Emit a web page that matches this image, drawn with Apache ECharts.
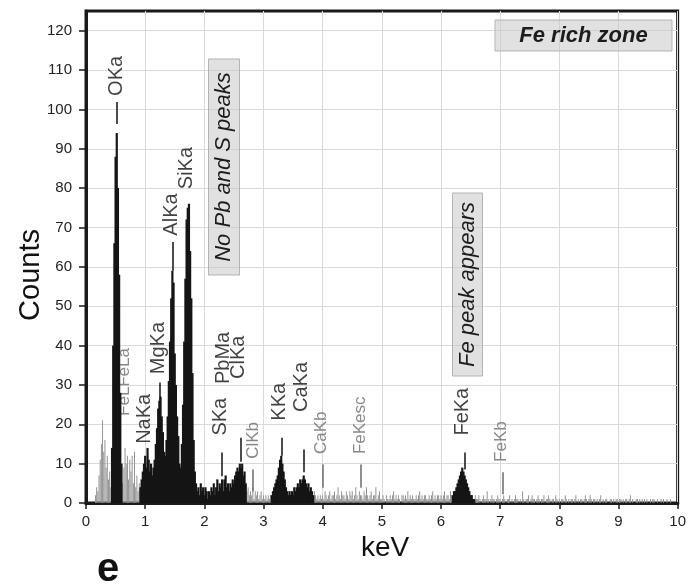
<!DOCTYPE html>
<html>
<head>
<meta charset="utf-8">
<script src="https://cdn.jsdelivr.net/npm/echarts@6/dist/echarts.min.js"></script>
<style>
  html, body { margin: 0; padding: 0; background: #ffffff; }
  #chart { width: 689px; height: 586px; }
</style>
</head>
<body>
<div id="chart"></div>
<script>
// EDS spectrum, counts per 0.02 keV channel.
const CHANNEL_KEV = 0.02;

// 0.10 – 1.98 keV (C, O, Fe-L, Na, Mg, Al, Si)
const lowStart = 0.10;
const lowCounts = [
  0, 0, 0, 2, 4, 3, 7, 11, 15, 21,
  13, 16, 9, 12, 6, 8, 4, 14, 40, 66,
  88, 94, 80, 58, 28, 10, 5, 9, 14, 10,
  12, 6, 11, 8, 12, 5, 13, 4, 7, 3,
  5, 4, 6, 8, 10, 12, 9, 14, 11, 8,
  10, 7, 9, 11, 15, 19, 24, 26, 27, 22,
  18, 13, 12, 16, 22, 31, 41, 52, 59, 56,
  38, 30, 22, 17, 10, 9, 15, 25, 41, 57,
  72, 75, 76, 64, 52, 33, 16, 8, 5, 3,
  4, 2, 5, 3, 4
];

// 2.00 – 3.98 keV (S, Pb-M, Cl, K, Ca)
const midStart = 2.00;
const midCounts = [
  2, 4, 3, 1, 3, 2, 4, 3, 5, 2,
  4, 6, 3, 5, 4, 6, 3, 6, 7, 4,
  5, 3, 5, 4, 6, 5, 7, 8, 9, 8,
  10, 9, 10, 7, 8, 5, 3, 4, 2, 3,
  2, 4, 1, 3, 2, 3, 1, 2, 3, 1,
  2, 1, 2, 1, 2, 1, 2, 2, 3, 4,
  5, 6, 7, 9, 11, 12, 10, 8, 6, 4,
  3, 2, 3, 2, 3, 2, 4, 3, 4, 5,
  4, 6, 5, 6, 7, 6, 5, 4, 5, 3,
  4, 3, 2, 3, 2, 1, 2, 1, 2, 1
];

// 4.00 – 9.98 keV (background and Fe-K)
const highStart = 4.00;
const highCounts = [
  2, 1, 3, 2, 1, 2, 3, 1, 2, 2,
  3, 1, 2, 4, 2, 1, 3, 2, 2, 1,
  3, 2, 1, 3, 2, 3, 1, 2, 4, 2,
  1, 3, 2, 2, 1, 3, 2, 4, 2, 1,
  2, 3, 1, 2, 2, 4, 1, 2, 3, 1,
  1, 2, 1, 0, 2, 1, 1, 2, 1, 2,
  3, 1, 2, 1, 2, 1, 0, 2, 2, 1,
  2, 1, 3, 1, 2, 1, 2, 1, 1, 2,
  1, 2, 3, 1, 2, 1, 2, 2, 1, 1,
  2, 1, 2, 3, 1, 2, 1, 2, 2, 1,
  2, 1, 2, 3, 1, 2, 2, 1, 3, 2,
  2, 3, 3, 4, 5, 6, 7, 8, 9, 8,
  7, 6, 5, 4, 3, 2, 2, 1, 1, 2,
  1, 1, 2, 1, 0, 1, 2, 1, 1, 3,
  1, 0, 1, 2, 1, 1, 0, 1, 2, 1,
  1, 0, 1, 2, 1, 0, 1, 1, 2, 0,
  1, 0, 1, 2, 1, 1, 0, 1, 0, 3,
  1, 0, 1, 1, 2, 0, 1, 2, 1, 1,
  0, 1, 2, 1, 0, 1, 1, 2, 0, 1,
  1, 2, 1, 0, 1, 1, 0, 2, 1, 0,
  1, 0, 1, 1, 0, 2, 1, 0, 1, 0,
  1, 1, 0, 1, 2, 0, 1, 0, 1, 1,
  0, 1, 2, 1, 0, 1, 2, 1, 0, 1,
  1, 0, 1, 0, 1, 2, 0, 1, 0, 1,
  1, 0, 0, 1, 1, 0, 1, 0, 1, 1,
  0, 1, 1, 0, 1, 0, 1, 1, 0, 1,
  2, 0, 1, 0, 0, 1, 1, 0, 1, 0,
  1, 0, 1, 0, 1, 0, 0, 1, 0, 1,
  1, 0, 0, 1, 0, 0, 1, 0, 1, 0,
  0, 1, 0, 0, 1, 0, 0, 0, 0, 0
];

// Energy windows drawn as fitted peaks (dark); the rest is background (grey).
const peakBands = [[0.43, 0.61], [0.91, 2.71], [3.13, 3.85], [6.19, 6.57]];

const xTicks = [0, 1, 2, 3, 4, 5, 6, 7, 8, 9, 10];
const yTicks = [0, 10, 20, 30, 40, 50, 60, 70, 80, 90, 100, 110, 120];

// Line identifications: [label, keV, counts where the text starts]
const lineLabels = [
  ['OKa', 0.52, 103.3],
  ['NaKa', 1.005, 14.9],
  ['MgKa', 1.24, 32.6],
  ['AlKa', 1.449, 67.8],
  ['SiKa', 1.709, 79.6],
  ['SKa', 2.278, 17.0],
  ['PbMa', 2.328, 30.1],
  ['ClKa', 2.58, 31.4],
  ['KKa', 3.283, 20.8],
  ['CaKa', 3.652, 23.0],
  ['FeKa', 6.365, 17.0]
];
const faintLabels = [
  ['FeL', 0.653, 22.0],
  ['FeLa', 0.653, 29.4],
  ['ClKb', 2.831, 11.1],
  ['CaKb', 3.987, 12.3],
  ['FeKesc', 4.64, 12.3],
  ['FeKb', 7.035, 10.3]
];

// Short line-position markers: [keV, from counts, to counts]
const lineMarks = [
  [0.514, 96.3, 101.9],
  [1.248, 26, 30.6],
  [1.474, 59, 66.3],
  [2.30, 6.8, 12.8],
  [2.613, 10.5, 16.6],
  [3.305, 12, 16.6],
  [3.685, 7.8, 13.6],
  [6.394, 8.5, 12.8]
];
const faintMarks = [
  [2.814, 2.9, 8.5],
  [4.003, 3.9, 9.8],
  [4.645, 3.9, 9.8],
  [7.047, 2.2, 7.8]
];

const FONT = '"Liberation Sans", Arial, Helvetica, sans-serif';

function channels(start, counts) {
  return counts.map((c, i) => [+(start + i * CHANNEL_KEV).toFixed(3), c]);
}
const allChannels = [].concat(
  channels(lowStart, lowCounts),
  channels(midStart, midCounts),
  channels(highStart, highCounts)
);
const inPeak = e => peakBands.some(([a, b]) => e >= a && e <= b);
const peakData = allChannels.filter(d => inPeak(d[0]));
const backgroundData = allChannels.filter(d => !inPeak(d[0]));

// One rectangle per channel, spanning the channel's energy width.
function channelBars(color, fill, pad) {
  return function (params, api) {
    const e = api.value(0);
    const v = api.value(1);
    const half = CHANNEL_KEV / 2 * fill;
    const top = api.coord([e - half, v]);
    const base = api.coord([e + half, 0]);
    return {
      type: 'rect',
      shape: {
        x: top[0] - pad,
        y: top[1],
        width: base[0] - top[0] + 2 * pad,
        height: base[1] - top[1]
      },
      style: { fill: color }
    };
  };
}

function markSegments(list) {
  return list.map(([e, a, b]) => [{ coord: [e, a] }, { coord: [e, b] }]);
}
function labelItems(list) {
  return list.map(([t, e, c]) => ({ name: t, value: [e, c] }));
}

function annotation(cx, cy, w, h, text, font, vertical) {
  return {
    type: 'group',
    x: cx, y: cy, z: 100,
    rotation: vertical ? Math.PI / 2 : 0,
    children: [
      {
        type: 'rect', z: 100,
        shape: { x: -w / 2, y: -h / 2, width: w, height: h },
        style: { fill: 'rgba(200,200,200,0.55)', stroke: '#b3b3b3', lineWidth: 1 }
      },
      {
        type: 'text', z: 101,
        style: {
          text: text, x: 0, y: 0, align: 'center', verticalAlign: 'middle',
          font: font, fill: '#1c1c1c'
        }
      }
    ]
  };
}

const chart = echarts.init(document.getElementById('chart'), null, { renderer: 'canvas' });

chart.setOption({
  animation: false,
  backgroundColor: '#ffffff',
  grid: {
    left: 86, right: 5, top: 11, bottom: 83,
    show: true, borderColor: '#1a1a1a', borderWidth: 3,
    containLabel: false
  },
  xAxis: {
    type: 'value', min: 0, max: 10, interval: 1,
    axisLine: { show: true, onZero: false, lineStyle: { color: '#1a1a1a', width: 3 } },
    axisTick: { show: true, length: 6, lineStyle: { color: '#1a1a1a', width: 1.5 }, customValues: xTicks },
    axisLabel: { fontSize: 15, color: '#222', margin: 11, fontFamily: FONT, customValues: xTicks },
    splitLine: { show: true, lineStyle: { color: '#dadada', width: 1 } }
  },
  yAxis: {
    type: 'value', min: 0, max: 125, interval: 10,
    axisLine: { show: true, lineStyle: { color: '#1a1a1a', width: 3 } },
    axisTick: { show: true, length: 7, lineStyle: { color: '#1a1a1a', width: 1.5 }, customValues: yTicks },
    axisLabel: { fontSize: 15, color: '#222', margin: 14, fontFamily: FONT, customValues: yTicks },
    splitLine: { show: true, lineStyle: { color: '#dadada', width: 1 } }
  },
  series: [
    {
      name: 'background', type: 'custom', data: backgroundData,
      encode: { x: 0, y: 1 }, clip: true, z: 3,
      renderItem: channelBars('#8e8e8e', 0.8, 0)
    },
    {
      name: 'peaks', type: 'custom', data: peakData,
      encode: { x: 0, y: 1 }, clip: true, z: 3,
      renderItem: channelBars('#151515', 1, 0.5)
    },
    {
      name: 'faint lines', type: 'scatter', data: labelItems(faintLabels),
      symbolSize: 1, itemStyle: { color: 'rgba(0,0,0,0)' }, z: 2,
      label: {
        show: true, formatter: '{b}', rotate: 90, position: [0, 0],
        align: 'left', verticalAlign: 'middle',
        fontSize: 17, color: '#6a6a6a', fontFamily: FONT
      },
      markLine: {
        silent: true, symbol: ['none', 'none'], animation: false,
        label: { show: false },
        lineStyle: { color: '#6a6a6a', width: 1.5, type: 'solid' },
        data: markSegments(faintMarks)
      }
    },
    {
      name: 'lines', type: 'scatter', data: labelItems(lineLabels),
      symbolSize: 1, itemStyle: { color: 'rgba(0,0,0,0)' }, z: 4,
      label: {
        show: true, formatter: '{b}', rotate: 90, position: [0, 0],
        align: 'left', verticalAlign: 'middle',
        fontSize: 20, color: '#111', fontFamily: FONT
      },
      markLine: {
        silent: true, symbol: ['none', 'none'], animation: false,
        label: { show: false },
        lineStyle: { color: '#111', width: 1.5, type: 'solid' },
        data: markSegments(lineMarks)
      }
    }
  ],
  graphic: [
    {
      type: 'text', x: 31, y: 275, rotation: Math.PI / 2, z: 100,
      style: { text: 'Counts', font: '29px ' + FONT, fill: '#111', align: 'center', verticalAlign: 'middle' }
    },
    {
      type: 'text', x: 385, y: 548, z: 100,
      style: { text: 'keV', font: '28px ' + FONT, fill: '#111', align: 'center', verticalAlign: 'middle' }
    },
    {
      type: 'text', x: 108, y: 570, z: 100,
      style: { text: 'e', font: 'bold 40px ' + FONT, fill: '#111', align: 'center', verticalAlign: 'middle' }
    },
    annotation(224, 167, 216, 31, 'No Pb and S peaks', 'italic 22px ' + FONT, true),
    annotation(467.5, 284.5, 183, 30, 'Fe peak appears', 'italic 22px ' + FONT, true),
    annotation(583.5, 35.5, 177, 31, 'Fe rich zone', 'italic bold 22px ' + FONT, false)
  ]
});
</script>
</body>
</html>
